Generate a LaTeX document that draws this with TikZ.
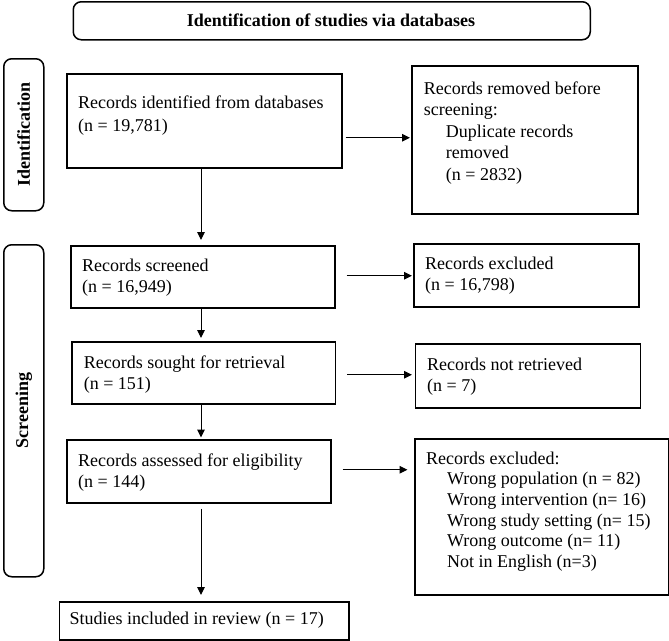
\documentclass[tikz,border=0pt]{standalone}
\usepackage{fontspec}
\setmainfont{Liberation Serif}
\usetikzlibrary{arrows.meta}
\begin{document}
\begin{tikzpicture}[x=1pt,y=-1pt,
  box/.style={draw, line width=1.5pt, inner sep=0pt, anchor=north west},
  side/.style={box, rounded corners=8pt},
  txt/.style={anchor=base west, inner sep=0pt, align=left, font=\fontsize{18}{21}\selectfont},
  lbl/.style={inner sep=0pt, font=\fontsize{18}{21}\selectfont\bfseries},
  arr/.style={line width=1pt, -{Triangle[length=8pt,width=7.5pt]}}]
\useasboundingbox (0,0) rectangle (669,640);
% boxes
\node[side, minimum width=517pt, minimum height=38pt] (title) at (72.5,1) {};
\node[side, minimum width=40pt, minimum height=152pt] (sid) at (3,58) {};
\node[side, minimum width=40pt, minimum height=332pt] (ssc) at (3,244) {};
\node[box, minimum width=275pt, minimum height=94pt] (b1) at (66,73) {};
\node[box, minimum width=226pt, minimum height=148pt] (rm) at (411,65) {};
\node[box, minimum width=264pt, minimum height=62pt] (b2) at (70,245) {};
\node[box, minimum width=225pt, minimum height=63pt] (ex1) at (413,243) {};
\node[box, minimum width=263.5pt, minimum height=62pt] (b3) at (71,341) {};
\node[box, minimum width=225pt, minimum height=64pt] (nr) at (414.7,343) {};
\node[box, minimum width=264pt, minimum height=63pt] (b4) at (66,439) {};
\node[box, minimum width=254pt, minimum height=156pt] (ex2) at (414,438) {};
\node[box, minimum width=289.5pt, minimum height=38pt] (st) at (58.5,601) {};
% labels
\node[lbl, anchor=base] (ttitle) at (331,26) {Identification of studies via databases};
\node[lbl, rotate=90] (tsid) at (sid.center) {Identification};
\node[lbl, rotate=90] (tssc) at (ssc.center) {Screening};
% texts (anchor = baseline of the last line)
\node[txt] (t1) at (78,131.5) {Records identified from databases\\[2.5pt](n = 19,781)};
\node[txt, font=\fontsize{18}{21.4}\selectfont] (trm) at (423.7,180.1) {Records removed before\\screening:\\\hspace*{22pt}Duplicate records\\\hspace*{22pt}removed\\\hspace*{22pt}(n = 2832)};
\node[txt] (t2) at (82,292.5) {Records screened\\(n = 16,949)};
\node[txt] (tex1) at (425,290.5) {Records excluded\\(n = 16,798)};
\node[txt] (t3) at (83.6,389) {Records sought for retrieval\\(n = 151)};
\node[txt] (tnr) at (427,391) {Records not retrieved\\(n = 7)};
\node[txt] (t4) at (78,487) {Records assessed for eligibility\\(n = 144)};
\node[txt, font=\fontsize{18}{20.7}\selectfont] (tex2) at (426,567.5) {Records excluded:\\\hspace*{21pt}Wrong population (n = 82)\\\hspace*{21pt}Wrong intervention (n= 16)\\\hspace*{21pt}Wrong study setting (n= 15)\\\hspace*{21pt}Wrong outcome (n= 11)\\\hspace*{21pt}Not in English (n=3)};
\node[txt] (tst) at (69.5,624.5) {Studies included in review (n = 17)};
% connectors
\coordinate (axis) at (201,0);
\draw[arr] ([xshift=3pt,yshift=-17pt]b1.east) -- ([xshift=-1pt,yshift=-17pt]b1.east -| rm.west);
\draw[arr] ([xshift=11pt,yshift=1pt]b2.east) -- ([xshift=-1pt,yshift=1pt]b2.east -| ex1.west);
\draw[arr] ([xshift=11pt,yshift=-2pt]b3.east) -- ([xshift=-2.7pt,yshift=-2pt]b3.east -| nr.west);
\draw[arr] ([xshift=11pt,yshift=1.5pt]b4.east) -- ([xshift=-6.5pt,yshift=1.5pt]b4.east -| ex2.west);
\draw[arr] (b1.south -| axis) -- ([yshift=5pt]b2.north -| axis);
\draw[arr] (b2.south -| axis) -- ([yshift=3pt]b3.north -| axis);
\draw[arr] (b3.south -| axis) -- ([yshift=1.5pt]b4.north -| axis);
\draw[arr] ([yshift=-5pt]b4.south -| axis) -- ([yshift=6pt]st.north -| axis);
\end{tikzpicture}
\end{document}
